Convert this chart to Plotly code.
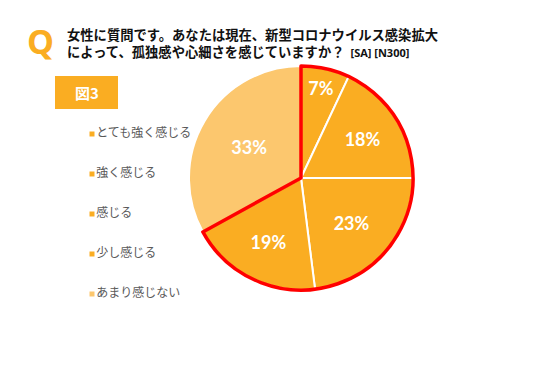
import plotly.graph_objects as go

# ---- data ----
labels = ["とても強く感じる", "強く感じる", "感じる", "少し感じる", "あまり感じない"]
values = [7, 18, 23, 19, 33]
colors = ["#FAAD22", "#FAAD22", "#FAAD22", "#FAAD22", "#FCC76E"]
title_line1 = "女性に質問です。あなたは現在、新型コロナウイルス感染拡大"
title_line2 = "によって、孤独感や心細さを感じていますか？"
title_tag = "[SA] [N300]"
fig_label = "図3"

W, H = 534, 379
JP = "Noto Sans CJK JP"

fig = go.Figure()

pie_domain = dict(x=[189 / W, 413 / W], y=[(H - 290) / H, (H - 66) / H])

# main pie
fig.add_trace(go.Pie(
    labels=labels, values=values, sort=False, direction="clockwise", rotation=0,
    marker=dict(colors=colors, line=dict(color="white", width=2)),
    texttemplate="%{percent:.0%}", textposition="inside",
    insidetextorientation="horizontal",
    insidetextfont=dict(family="Lato", size=18, color="white", weight="bold"),
    domain=pie_domain,
    showlegend=False, hoverinfo="label+percent",
))

# red outline around the "feel it" group (first four categories)
group_vals = [sum(values[:4]), sum(values[4:])]
fig.add_trace(go.Pie(
    values=group_vals, labels=["感じる計", "感じない"], sort=False, direction="clockwise", rotation=0,
    marker=dict(colors=["rgba(0,0,0,0)", "rgba(0,0,0,0)"],
                line=dict(color=["#FF0000", "rgba(0,0,0,0)"], width=[3.5, 0])),
    textinfo="none", hoverinfo="skip",
    domain=pie_domain,
    showlegend=False,
))

# legend drawn as a scatter in pixel space
leg_y = [134 + 40 * i for i in range(len(labels))]
fig.add_trace(go.Scatter(
    x=[92] * len(labels), y=leg_y, mode="markers+text",
    marker=dict(symbol="square", size=5, color=colors),
    text=labels, textposition="middle right",
    textfont=dict(family=JP, size=12, color="#595959"),
    showlegend=False, hoverinfo="skip",
))

fig.update_layout(
    width=W, height=H, margin=dict(l=0, r=0, t=0, b=0),
    paper_bgcolor="white", plot_bgcolor="rgba(0,0,0,0)",
    xaxis=dict(range=[0, W], visible=False, domain=[0, 1], fixedrange=True),
    yaxis=dict(range=[H, 0], visible=False, domain=[0, 1], fixedrange=True),
    shapes=[dict(type="rect", xref="x", yref="y", x0=55, x1=118, y0=76, y1=109,
                 fillcolor="#FAAD22", line=dict(width=0), layer="below")],
    annotations=[
        dict(x=40, y=41, xref="x", yref="y", text="<b>Q</b>", showarrow=False,
             font=dict(family="Open Sans", size=34, color="#FAAD22")),
        dict(x=65, y=43, xref="x", yref="y", xanchor="left", yanchor="middle", align="left",
             text="<b>" + title_line1 + "</b><br><b>" + title_line2
                  + "</b>  <span style='font-size:11px;font-family:Open Sans'><b>"
                  + title_tag + "</b></span>", showarrow=False,
             font=dict(family=JP, size=13.3, color="#111111")),
        dict(x=86.5, y=92.5, xref="x", yref="y", text="<b>" + fig_label + "</b>", showarrow=False,
             font=dict(family=JP, size=15, color="white")),
    ],
)

fig.write_html("out.html", config={"displayModeBar": False},
               post_script="document.body.style.margin='0';document.body.style.overflow='hidden';")
